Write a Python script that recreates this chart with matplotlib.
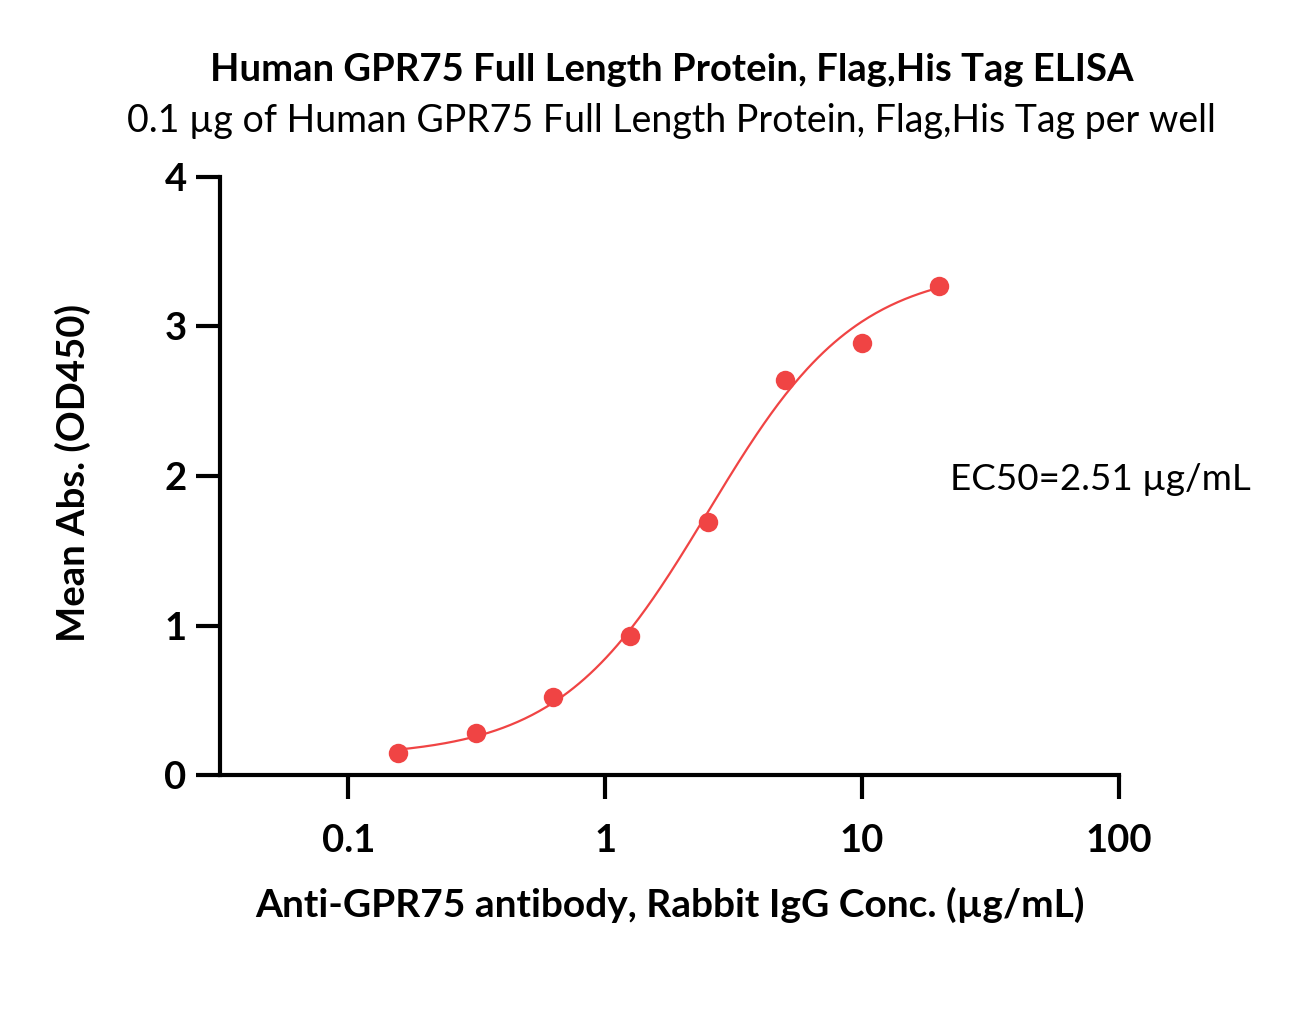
import matplotlib
matplotlib.use("Agg")
import matplotlib.pyplot as plt
import numpy as np

plt.rcParams['font.family'] = ['Lato', 'DejaVu Sans']

# measured points
conc = [0.156, 0.3125, 0.625, 1.25, 2.5, 5, 10, 20]
od450 = [0.15, 0.28, 0.52, 0.93, 1.69, 2.64, 2.89, 3.27]

# 4PL fit parameters
bottom = 0.12
top = 3.40
ec50 = 2.51
hill = 1.5

x_ticks = [0.1, 1, 10, 100]
x_tick_labels = ["0.1", "1", "10", "100"]
y_ticks = [0, 1, 2, 3, 4]

red = "#F04444"

fig = plt.figure(figsize=(12.92, 10.23), dpi=100)
ax = fig.add_axes([0.1703, 0.2424, 0.6958, 0.5846])

xs = np.logspace(np.log10(conc[0]), np.log10(conc[-1]), 300)
ys = bottom + (top - bottom) / (1 + (ec50 / xs) ** hill)
ax.plot(xs, ys, color=red, lw=1.6, zorder=2)
ax.plot(conc, od450, "o", color=red, ms=14, mec="none", zorder=3, clip_on=False)

ax.set_xscale("log")
ax.set_xlim(10 ** -1.5, 100)
ax.set_ylim(0, 4)
ax.set_xticks(x_ticks)
ax.set_xticklabels(x_tick_labels)
ax.xaxis.set_minor_locator(matplotlib.ticker.NullLocator())
ax.set_yticks(y_ticks)

for s in ["top", "right"]:
    ax.spines[s].set_visible(False)
for s in ["left", "bottom"]:
    ax.spines[s].set_linewidth(3)
ax.tick_params(axis="both", width=3, length=17, labelsize=27.5, pad=7)
ax.tick_params(axis="x", pad=18)
for lab in ax.get_xticklabels() + ax.get_yticklabels():
    lab.set_fontweight("bold")

ax.set_xlabel("Anti-GPR75 antibody, Rabbit IgG Conc. (µg/mL)", fontsize=28,
              fontweight="bold", va="center")
ax.xaxis.set_label_coords(0.5009, -0.2174)
ax.set_ylabel("Mean Abs. (OD450)", fontsize=27.5, fontweight="bold", va="center")
ax.yaxis.set_label_coords(-0.1635, 0.505)

fig.text(0.520, 0.9315, "Human GPR75 Full Length Protein, Flag,His Tag ELISA",
         ha="center", va="center", fontsize=27.5, fontweight="bold")
fig.text(0.520, 0.882, "0.1 µg of Human GPR75 Full Length Protein, Flag,His Tag per well",
         ha="center", va="center", fontsize=27)
fig.text(0.735, 0.531, "EC50=2.51 µg/mL", ha="left", va="center", fontsize=26.5)

fig.savefig("out.png", dpi=100)
